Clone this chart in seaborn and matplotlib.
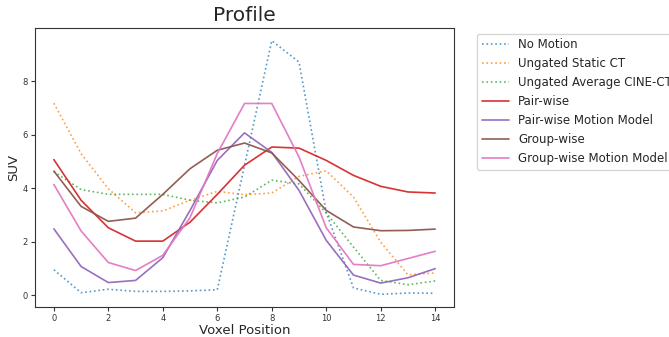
import numpy as np
import pandas as pd
import matplotlib
matplotlib.use("Agg")
import matplotlib.pyplot as plt
import seaborn as sns

# voxel positions along the profile
voxel = list(range(15))

no_motion = [0.95, 0.09, 0.22, 0.14, 0.14, 0.16, 0.20, 4.85, 9.52, 8.72, 3.10, 0.27, 0.03, 0.08, 0.07]
ungated_static = [7.18, 5.29, 3.98, 3.08, 3.15, 3.55, 3.88, 3.76, 3.82, 4.44, 4.65, 3.67, 1.98, 0.76, 0.83]
ungated_cine = [4.62, 3.95, 3.77, 3.77, 3.77, 3.55, 3.45, 3.67, 4.30, 4.16, 3.07, 1.80, 0.55, 0.39, 0.53]
pair_wise = [5.07, 3.55, 2.52, 2.02, 2.02, 2.73, 3.77, 4.86, 5.54, 5.50, 5.04, 4.48, 4.07, 3.86, 3.82]
pair_wise_mm = [2.48, 1.07, 0.47, 0.55, 1.40, 3.17, 5.04, 6.07, 5.34, 3.92, 2.05, 0.75, 0.45, 0.65, 0.99]
group_wise = [4.64, 3.32, 2.76, 2.88, 3.77, 4.73, 5.42, 5.69, 5.32, 4.29, 3.17, 2.55, 2.41, 2.42, 2.47]
group_wise_mm = [4.14, 2.40, 1.22, 0.92, 1.49, 2.90, 5.30, 7.17, 7.17, 5.17, 2.52, 1.15, 1.10, 1.37, 1.64]

labels = ["No Motion", "Ungated Static CT", "Ungated Average CINE-CT",
          "Pair-wise", "Pair-wise Motion Model", "Group-wise", "Group-wise Motion Model"]
series = [no_motion, ungated_static, ungated_cine, pair_wise,
          pair_wise_mm, group_wise, group_wise_mm]
styles = [":", ":", ":", "-", "-", "-", "-"]

sns.set_style("white")
colors = sns.color_palette("tab10")

fig = plt.figure(figsize=(6.69, 3.37), dpi=100)
ax = fig.add_axes([0.052, 0.089, 0.627, 0.828])

for i, (lab, vals) in enumerate(zip(labels, series)):
    df = pd.DataFrame({"Voxel Position": voxel, "SUV": vals})
    dotted = styles[i] == ":"
    sns.lineplot(data=df, x="Voxel Position", y="SUV", ax=ax, label=lab,
                 color=colors[i], linestyle=styles[i],
                 linewidth=1.2, alpha=0.75 if dotted else 0.95)

ax.set_title("Profile", fontsize=14.5, pad=5)
ax.set_xlabel("Voxel Position", fontsize=9.5, labelpad=1)
ax.set_ylabel("SUV", fontsize=9.5, labelpad=2)
ax.set_xticks(range(0, 15, 2))
ax.set_yticks(range(0, 10, 2))
ax.tick_params(labelsize=6, length=3, left=True, bottom=True, pad=2,
               colors="#333333")
for s in ax.spines.values():
    s.set_color("#333333")
    s.set_linewidth(0.8)

ax.legend(loc="upper left", bbox_to_anchor=(0.713, 0.9),
          bbox_transform=fig.transFigure, fontsize=8.5, labelspacing=0.5,
          handlelength=2.3, frameon=True, borderaxespad=0)

fig.savefig("out.png", dpi=100)
